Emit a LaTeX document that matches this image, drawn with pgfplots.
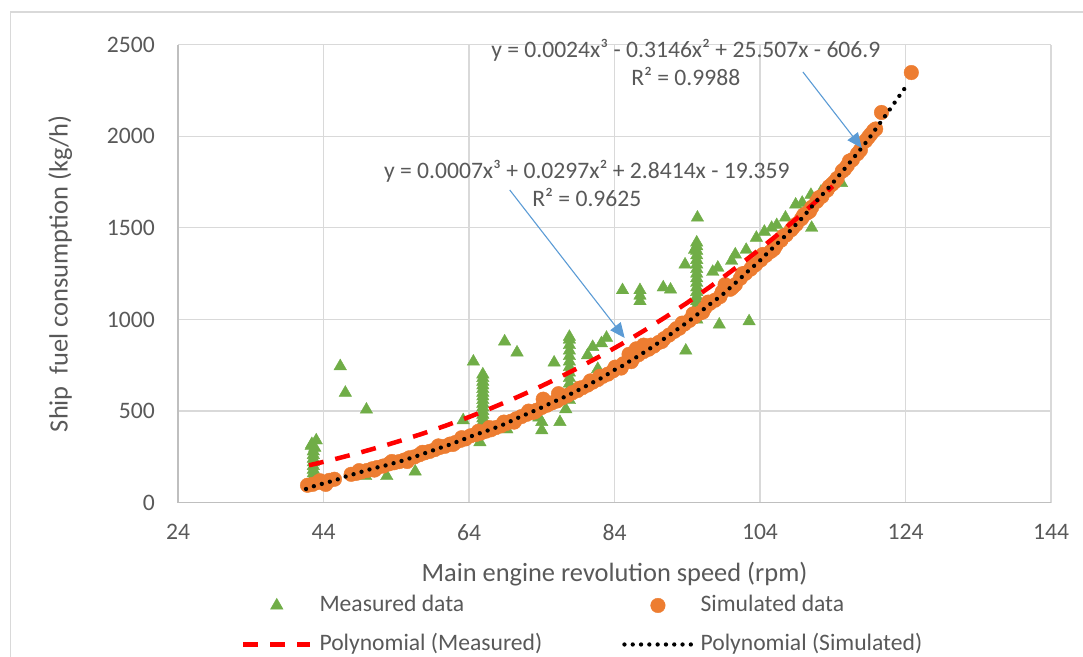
\documentclass[border=0pt]{standalone}
\usepackage{fontspec}
\setmainfont{Carlito}
\usepackage{pgfplots}
\pgfplotsset{compat=1.18}
\usetikzlibrary{arrows.meta}
\definecolor{mgreen}{HTML}{70AD47}
\definecolor{sorange}{HTML}{ED7D31}
\definecolor{arrowblue}{HTML}{5B9BD5}
\definecolor{txt}{HTML}{595959}
\definecolor{gridc}{HTML}{D9D9D9}
\definecolor{axisc}{HTML}{BFBFBF}
\begin{document}
\begin{tikzpicture}
\useasboundingbox (0,0) rectangle (1083bp,657bp);
\draw[gridc, line width=1.2bp] (10.5bp,0) -- (10.5bp,645bp) -- (1083bp,645bp);
\begin{axis}[
  at={(178bp,154.3bp)}, anchor=south west,
  width=873bp, height=458bp, scale only axis,
  xmin=24, xmax=144, ymin=0, ymax=2500,
  xtick={24,44,...,144}, ytick={0,500,...,2500},
  grid=major, major grid style={draw=gridc, line width=1.2bp},
  axis lines*=left, axis line style={draw=axisc, line width=1.2bp},
  major tick length=0pt,
  clip mode=individual, clip marker paths=true,
  /pgf/number format/assume math mode=true,
  /pgf/number format/set thousands separator={},
  tick label style={font=\fontsize{23.7}{28}\selectfont, text=txt, inner sep=0pt},
  xticklabel style={yshift=-21.5bp},
  yticklabel style={xshift=-23bp},
  xlabel={Main engine revolution speed (rpm)},
  ylabel={Ship\ \ fuel consumption (kg/h)},
  label style={font=\fontsize{26.5}{30}\selectfont, text=txt, inner sep=0pt},
  xlabel style={at={(axis description cs:0.5,-0.1557)}, anchor=center},
  ylabel style={at={(axis description cs:-0.135,0.5)}, anchor=center, rotate=0},
  legend columns=2,
  legend image code/.code={\draw[mark repeat=2,mark phase=2,#1] plot coordinates {(0bp,0bp) (33.5bp,0bp) (67bp,0bp)};},
  legend style={draw=none, fill=none, inner sep=0pt, outer sep=0pt,
    at={(axis description cs:0.0722,-0.1993)}, anchor=north west,
    font=\fontsize{23.7}{28}\selectfont, text=txt,
    nodes={inner sep=0pt, text height=18bp, text depth=5bp},
    row sep=16bp,
    /tikz/every odd column/.append style={column sep=7bp},
    /tikz/every even column/.append style={column sep=80bp}},
  legend cell align=left,
]
\addplot[only marks, color=mgreen, mark=triangle*, mark size=7.2bp, mark options={draw=mgreen, fill=mgreen}] coordinates {
(42.3,310) (43.0,340) (42.6,100) (42.6,120) (42.6,140) (42.6,160) (42.6,180) (42.6,200) (42.6,220) (42.6,240) (42.6,260) (42.6,280) (42.8,300) (42.4,320)
(46.3,745) (47.0,600) (49.9,508) (49.8,145) (52.7,145) (56.6,170) (63.2,450) (64.6,770) (65.5,330)
(65.9,380) (65.9,400) (65.9,420) (65.9,440) (65.9,460) (65.9,480) (65.9,500) (65.9,520) (65.9,540) (65.9,560) (65.9,580) (65.9,600) (65.9,620) (65.9,640) (65.9,660) (65.9,680) (65.9,700)
(68.9,880) (70.6,820) (69.2,400) (74.0,440) (74.0,395) (73.6,465) (76.5,440) (77.3,510) (75.7,765)
(77.8,560) (77.8,590) (77.8,620) (77.8,650) (77.8,680) (77.8,710) (77.8,740) (77.8,770) (77.8,800) (77.8,830) (77.8,860) (77.8,890) (77.8,905)
(80.3,805) (81.0,850) (81.7,730) (82.9,900) (82.2,870)
(85.1,1160) (87.5,1160) (87.5,1130) (87.5,1100) (90.7,1175) (91.7,1163) (93.7,1300) (93.8,830)
(95.3,1000) (95.3,1025) (95.3,1050) (95.3,1075) (95.3,1100) (95.3,1125) (95.3,1150) (95.3,1175) (95.3,1200) (95.3,1225) (95.3,1250) (95.3,1275) (95.3,1300) (95.3,1325) (95.3,1350) (95.3,1375) (95.3,1400) (95.3,1420) (95.4,1556) (95.0,1380)
(97.5,1260) (98.2,1283) (98.4,972) (100.1,1320) (100.6,1355) (102.1,1380) (102.5,990) (103.5,1446) (104.6,1479) (105.6,1500) (106.3,1515) (107.5,1556) (108.9,1627) (109.8,1637) (111.1,1500) (111.0,1680) (112.4,1698) (115.2,1745) (114.5,1760)
};
\addlegendentry{Measured data}
\addplot[only marks, color=sorange, mark=*, mark size=7.3bp, mark options={draw=sorange, fill=sorange}] coordinates {
(41.8,95) (42.5,100) (43.2,110) (44.0,112) (44.8,122) (45.5,128) (43.5,120) (44.3,100)
(47.8,155) (48.5,160) (49.2,168) (50.0,176) (50.7,185) (51.4,192) (52.2,200) (53.0,212) (53.7,218) (54.4,224) (55.1,233) (55.8,245) (56.5,250) (57.2,262) (57.9,272) (58.6,280) (59.3,290) (60.0,302) (60.7,308) (61.4,320) (62.1,328) (62.8,340) (63.5,348) (64.2,365) (64.9,372) (65.6,380) (66.3,390) (67.0,398) (67.7,410) (68.4,420) (69.1,432) (69.8,445) (70.5,458) (71.2,470) (71.9,482) (72.6,492) (73.3,505) (74.0,520) (74.2,565) (74.7,532) (75.4,545) (76.1,555) (76.3,595) (76.8,572) (77.5,585) (78.2,600) (78.9,612) (79.6,628) (80.3,642) (81.0,658) (81.7,672) (82.4,690) (83.1,702) (83.8,720) (84.5,740) (85.2,758) (85.9,775) (86.0,810) (86.6,790) (87.0,840) (87.3,808) (88.0,825) (88.0,860) (88.7,838) (89.4,855) (90.1,875) (90.8,895) (91.5,915) (92.2,935) (92.9,952) (93.6,975) (94.3,995) (95.0,1015) (95.7,1035) (96.4,1062) (97.1,1088) (97.8,1105) (98.5,1125) (99.2,1190) (99.9,1165) (100.6,1190) (101.3,1225) (102.0,1252) (102.7,1275) (103.4,1300) (104.1,1325) (104.8,1350) (105.5,1372) (106.2,1405) (106.9,1433) (107.6,1462) (108.3,1490) (109.0,1520) (109.7,1550) (110.4,1580) (111.1,1612) (111.8,1645) (112.5,1672) (113.2,1705) (113.9,1738) (114.6,1770) (115.3,1810) (116.0,1840) (116.7,1872) (117.4,1905) (118.5,1975) (119.2,2010) (119.9,2040) (120.7,2130) (124.8,2348)
(48.9,175) (51.0,178) (53.4,225) (55.5,225) (57.6,275) (59.8,310) (61.8,318) (63.0,355) (65.3,390) (66.8,410) (68.8,440) (70.2,440) (72.2,500) (73.0,495) (75.0,540) (79.2,625) (80.7,665) (82.0,690) (84.1,740) (84.9,735) (86.3,770) (89.0,860) (90.5,880) (92.5,950) (93.3,980) (94.8,1030) (96.1,1040) (96.9,1095) (98.8,1150) (100.2,1175) (101.6,1250) (103.0,1290) (104.4,1355) (105.9,1385) (107.2,1455) (108.6,1505) (110.0,1570) (110.8,1590) (112.1,1665) (113.5,1725) (114.2,1750) (115.6,1820) (116.3,1865) (117.8,1925) (118.9,1995) (119.6,2030)
};
\addlegendentry{Simulated data}
\addplot[red, line width=4.5bp, dash pattern=on 15bp off 12bp] coordinates {
(42,204.2) (43,213.4) (46,242.3) (49,273.5) (52,307.1) (55,343.2) (58,381.9) (61,423.4) (64,467.6) (67,514.9) (70,565.2) (73,618.6) (76,675.4) (79,735.6) (82,799.3) (85,866.6) (88,937.7) (91,1012.7) (94,1091.6) (97,1174.6) (100,1261.8) (103,1353.3) (106,1449.3) (109,1549.7) (112,1654.9) (114,1727.6)
};
\addlegendentry{Polynomial (Measured)}
\addplot[black, line width=4.3bp, line cap=round, dash pattern=on 0bp off 8.3bp] coordinates {
(41.6,75) (42,80) (43,95) (44,105) (45,116) (46,128) (47,142) (48,154) (49,166) (50,178) (51,189) (52,198) (53,208) (54,220) (55,231) (56,244) (57,257) (58,271) (59,285) (60,299) (61,312) (62,327) (63,342) (64,358) (65,373) (66,386) (67,400) (68,415) (69,431) (70,450) (71,468) (72,485) (73,502) (74,520) (75,539) (76,557) (77,575) (78,594) (79,614) (80,635) (81,656) (82,676) (83,700) (84,725) (85,745) (86,770) (87,794) (88,819) (89,845) (90,872) (91,900) (92,928) (93,957) (94,985) (95,1015) (96,1048) (97,1080) (98,1110) (99,1141) (100,1177) (101,1213) (102,1251) (103,1286) (104,1322) (105,1362) (106,1400) (107,1438) (108,1478) (109,1521) (110,1563) (111,1611) (112,1657) (113,1700) (114,1745) (115,1793) (116,1840) (117,1889) (118,1938) (119,1989) (120,2045) (121,2100) (122,2155) (123,2212) (124,2268) (124.2,2275)
};
\addlegendentry{Polynomial (Simulated)}
\node[align=center, font=\fontsize{23.7}{28}\selectfont, text=txt, inner sep=0pt] at (axis cs:93.8,2405) {y = 0.0024x³ - 0.3146x² + 25.507x - 606.9\\R² = 0.9988};
\node[align=center, font=\fontsize{23.7}{28}\selectfont, text=txt, inner sep=0pt] at (axis cs:80.2,1742) {y = 0.0007x³ + 0.0297x² + 2.8414x - 19.359\\R² = 0.9625};
\draw[arrowblue, line width=1.1bp, -{Triangle[length=15bp,width=13bp]}] (axis cs:109.9,2351) -- (axis cs:118.0,1936);
\draw[arrowblue, line width=1.1bp, -{Triangle[length=15bp,width=13bp]}] (axis cs:69.6,1707) -- (axis cs:85.4,899);
\end{axis}
\end{tikzpicture}
\end{document}
